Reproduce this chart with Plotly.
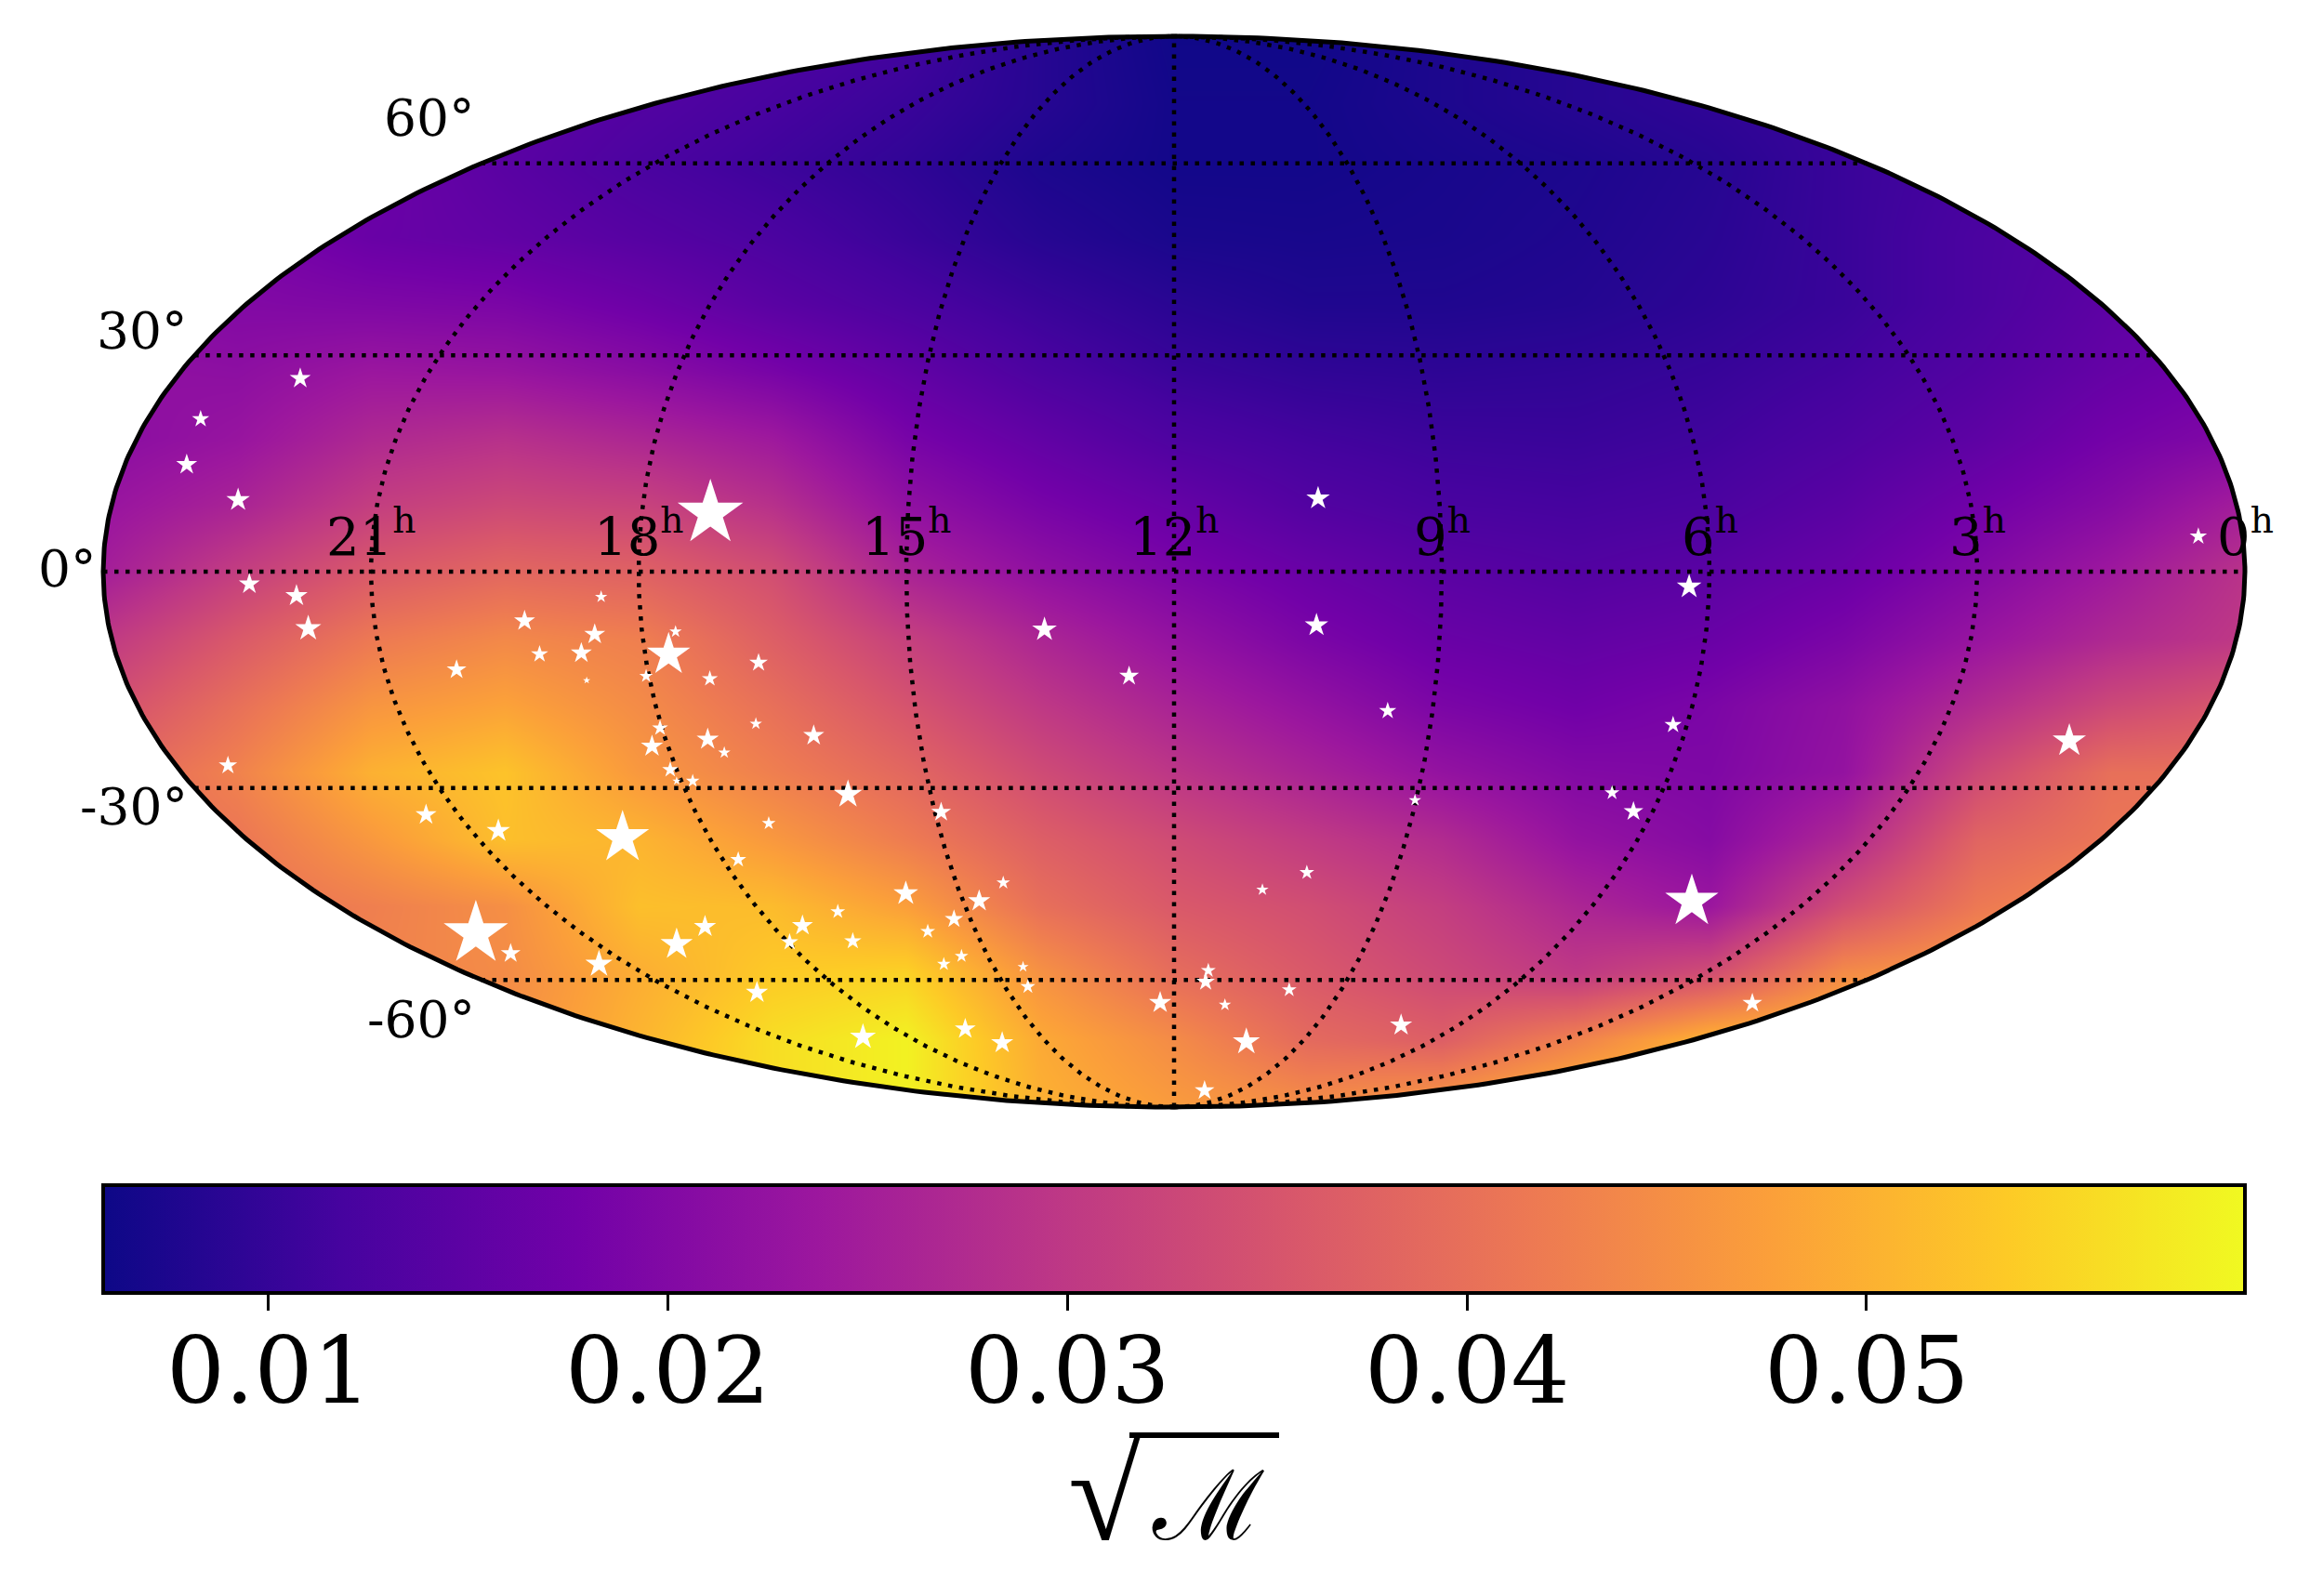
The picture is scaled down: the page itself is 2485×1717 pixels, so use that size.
import numpy as np
import plotly.graph_objects as go

# sky map values, on a grid in the projected plane
sky_x = [-2, -1.75, -1.5, -1.25, -1, -0.75, -0.5, -0.25, 0, 0.25, 0.5, 0.75, 1, 1.25, 1.5, 1.75, 2]
sky_y = [-1, -0.875, -0.75, -0.625, -0.5, -0.375, -0.25, -0.125, 0, 0.125, 0.25, 0.375, 0.5, 0.625, 0.75, 0.875, 1]

row_m1000 = [.050, .050, .050, .050, .052, .056, .0585, .050, .047, .045, .047, .052, .054, .054, .050, .048, .048]
row_m0875 = [.045, .045, .045, .045, .0505, .056, .0585, .049, .0445, .039, .037, .043, .0505, .052, .050, .048, .048]
row_m0750 = [.043, .043, .043, .0445, .0495, .0535, .0545, .0455, .0395, .036, .033, .030, .034, .0445, .047, .047, .047]
row_m0625 = [.040, .040, .0425, .045, .052, .0515, .0475, .040, .036, .034, .031, .0265, .0235, .034, .0415, .045, .045]
row_m0500 = [.040, .041, .0465, .052, .0505, .0465, .042, .037, .0335, .0305, .0275, .0225, .0205, .027, .038, .041, .042]
row_m0375 = [.038, .043, .050, .0525, .0465, .0425, .0385, .0335, .0295, .026, .0225, .020, .0195, .0225, .033, .040, .040]
row_m0250 = [.034, .040, .046, .048, .0445, .040, .035, .030, .026, .0225, .019, .0175, .019, .022, .0275, .033, .036]
row_m0125 = [.030, .036, .0415, .044, .0425, .037, .0315, .0265, .0225, .019, .0165, .0155, .0165, .019, .023, .027, .030]
row_p0000 = [.025, .031, .036, .0385, .0375, .034, .026, .022, .019, .0165, .0145, .0135, .0145, .0165, .020, .024, .029]
row_p0125 = [.023, .026, .031, .033, .032, .0285, .022, .0185, .016, .0135, .0122, .0118, .0125, .0145, .0175, .0205, .025]
row_p0250 = [.021, .023, .027, .0285, .0265, .024, .0185, .0155, .0128, .0115, .0107, .0105, .0112, .0128, .015, .018, .020]
row_p0375 = [.022, .0215, .0235, .023, .021, .0185, .0155, .0125, .0105, .0095, .0092, .0095, .0102, .0115, .0135, .016, .018]
row_p0500 = [.021, .020, .0195, .019, .017, .0145, .0125, .0105, .0088, .0078, .0078, .0082, .0092, .0105, .0125, .015, .016]
row_p0625 = [.019, .019, .0165, .0155, .014, .0125, .0105, .0085, .0072, .007, .0072, .0078, .0088, .0105, .0125, .014, .014]
row_p0750 = [.018, .018, .017, .0145, .0125, .011, .0095, .0075, .0065, .0065, .007, .0075, .0085, .0105, .012, .013, .013]
row_p0875 = [.017, .017, .016, .015, .0135, .012, .0105, .0085, .0065, .0065, .0075, .0085, .0095, .0105, .011, .012, .012]
row_p1000 = [.016, .016, .015, .015, .0145, .013, .0115, .0085, .0062, .0062, .0075, .0085, .0095, .0105, .011, .012, .012]

# stars, projected plane coordinates and relative weight
star_x = [-.944, -.931, -.986, -.776, -.867, -.781, -.960, -.975, -.871, -.840, -.673, -.941, -.929, -.899, -.609,
          -.757, -.435, -.814, -1.030, -.501, -.319, -.364, -.411, -.460, -.628, -.694, -.600, -.718, -.876, -.929,
          -.397, -.430, -.282, -.273, -.779, -.581, -.390, -.321, -.026, -.242, -.084,
          -1.727, -1.639, -1.617, -1.213, -1.070, -1.082, -1.185, -1.107, -1.097, -1.340, -1.767, -1.397, -1.262,
          -1.304, -1.239, -1.074, -1.632, -1.818, -1.844, -1.748, -.866,
          .269, 1.913, .962, .266, .399, .932, 1.672, .818, .450, .858, .248, .165, .967, .064, .059, .215, .095,
          1.080, .424, .135, .057]
star_y = [-.155, -.112, -.195, -.170, -.200, -.284, -.292, -.326, -.313, -.338, -.306, -.370, -.391, -.391, -.416,
          -.470, -.449, -.538, -.497, -.601, -.581, -.615, -.649, -.672, -.635, -.661, -.690, -.692, -.663, -.696,
          -.718, -.733, -.738, -.775, -.786, -.869, -.854, -.880, -.805, -.108, -.195,
          -.023, -.045, -.106, -.092, -.047, -.117, -.154, -.152, -.203, -.183, -.362, -.454, -.484,
          -.676, -.713, -.733, .361, .285, .200, .134, .109,
          .137, .066, -.028, -.100, -.260, -.286, -.316, -.413, -.427, -.448, -.562, -.594, -.616, -.745, -.766,
          -.781, -.809, -.806, -.847, -.878, -.969]
star_w = [35, 10, 11, 15, 13, 10, 13, 18, 18, 10, 17, 13, 7, 11, 23,
          11, 16, 13, 43, 20, 11, 18, 15, 12, 12, 17, 14, 14, 18, 26,
          11, 11, 9, 12, 18, 21, 17, 18, 18, 20, 16,
          17, 18, 21, 17, 10, 17, 14, 17, 6, 16, 15, 17, 19,
          52, 16, 22, 17, 14, 17, 19, 53,
          19, 14, 20, 19, 14, 14, 27, 12, 10, 16, 12, 10, 43, 12, 15, 12, 10,
          16, 18, 22, 16]

ra_hours = [21, 18, 15, 12, 9, 6, 3, 0]
dec_degs = [60, 30, 0, -30, -60]
cb_ticks = [0.01, 0.02, 0.03, 0.04, 0.05]
z_low, z_high = 0.00587, 0.05947

W, H = 2485, 1717
CX, CY, B = 1263, 615, 576
BAR_LEN = 2304
SERIF = "DejaVu Serif"


def dec_theta(dec):
    # mollweide auxiliary angle
    phi = np.radians(dec)
    t = phi
    for _ in range(30):
        t = t - (2 * t + np.sin(2 * t) - np.pi * np.sin(phi)) / (2 + 2 * np.cos(2 * t) + 1e-9)
    return t


z = [row_m1000, row_m0875, row_m0750, row_m0625, row_m0500, row_m0375, row_m0250, row_m0125, row_p0000,
     row_p0125, row_p0250, row_p0375, row_p0500, row_p0625, row_p0750, row_p0875, row_p1000]

fig = go.Figure()

fig.add_trace(go.Heatmap(
    x=sky_x, y=sky_y, z=z, zsmooth="best", colorscale="Plasma", zmin=z_low, zmax=z_high, hoverinfo="skip",
    colorbar=dict(
        orientation="h", lenmode="pixels", len=BAR_LEN, thicknessmode="pixels", thickness=116,
        x=CX / W, xanchor="center", y=1 - 1412 / H, yanchor="bottom", xpad=0, ypad=0,
        tickmode="array", tickvals=cb_ticks, showticklabels=False, ticks="outside", ticklen=17, tickwidth=3,
        tickcolor="black", outlinewidth=4, outlinecolor="black", borderwidth=0,
    ),
))

# white mask around the ellipse
t = np.linspace(-np.pi, np.pi, 721)
ex, ey = 2 * np.cos(t), np.sin(t)
mask_x = [-2.3, -2.3, 2.3, 2.3, -2.3, -2.3] + list(ex)
mask_y = [0, 1.1, 1.1, -1.1, -1.1, 0] + list(ey)
fig.add_trace(go.Scatter(x=mask_x, y=mask_y, mode="lines", fill="toself", fillcolor="white",
                         line=dict(width=0), hoverinfo="skip", showlegend=False))

# grid
dots = "4.5px,7.5px"
th = np.linspace(-np.pi / 2, np.pi / 2, 361)
for h in ra_hours[:-1]:
    fig.add_trace(go.Scatter(x=(12 - h) / 6 * np.cos(th), y=np.sin(th), mode="lines",
                             line=dict(color="black", width=4.5, dash=dots), hoverinfo="skip", showlegend=False))
for d in dec_degs:
    a = dec_theta(d)
    fig.add_trace(go.Scatter(x=[-2 * np.cos(a), 2 * np.cos(a)], y=[np.sin(a), np.sin(a)], mode="lines",
                             line=dict(color="black", width=4.5, dash=dots), hoverinfo="skip", showlegend=False))

fig.add_trace(go.Scatter(x=ex, y=ey, mode="lines", line=dict(color="black", width=5), hoverinfo="skip", showlegend=False))

fig.add_trace(go.Scatter(x=star_x, y=star_y, mode="markers",
                         marker=dict(symbol="star", size=star_w, color="white", opacity=1, line=dict(width=0)),
                         hoverinfo="skip", showlegend=False))

for h in ra_hours:
    fig.add_annotation(x=(12 - h) / 6, y=0, text=f"{h}<sup>h</sup>", showarrow=False, xanchor="center", yanchor="bottom",
                       yshift=3, font=dict(family=SERIF, size=56, color="black"))
for d in dec_degs:
    a = dec_theta(d)
    fig.add_annotation(x=-2 * np.cos(a), y=np.sin(a), text=f"{d}°", showarrow=False, xanchor="right", yanchor="middle",
                       xshift=-5, yshift=d * 0.77 + 3, font=dict(family=SERIF, size=55, color="black"))

# colorbar tick labels
for v in cb_ticks:
    fig.add_annotation(x=(CX - BAR_LEN / 2 + BAR_LEN * (v - z_low) / (z_high - z_low) - CX) / B, y=(CY - 1474) / B,
                       text=f"{v:.2f}", showarrow=False, xanchor="center", yanchor="middle",
                       font=dict(family=SERIF, size=99, color="black"))

# colorbar label
fig.add_annotation(x=(1188 - CX) / B, y=(CY - 1607) / B, text="√", showarrow=False, xanchor="center", yanchor="middle",
                   font=dict(family="Liberation Serif", size=144, color="black"))
fig.add_annotation(x=(1300 - CX) / B, y=(CY - 1620) / B, text="ℳ", showarrow=False, xanchor="center", yanchor="middle",
                   font=dict(family=SERIF, size=104, color="black"))
fig.add_shape(type="line", x0=(1215 - CX) / B, x1=(1376 - CX) / B, y0=(CY - 1544) / B, y1=(CY - 1544) / B,
              line=dict(color="black", width=6))

fig.update_xaxes(range=[(0 - CX) / B, (W - CX) / B], visible=False, fixedrange=True)
fig.update_yaxes(range=[(CY - H) / B, CY / B], visible=False, fixedrange=True)
fig.update_layout(width=W, height=H, margin=dict(l=0, r=0, t=0, b=0, autoexpand=False),
                  paper_bgcolor="white", plot_bgcolor="white", showlegend=False)

fig.write_html("out.html", post_script="document.body.style.margin='0';", config={"displayModeBar": False})
